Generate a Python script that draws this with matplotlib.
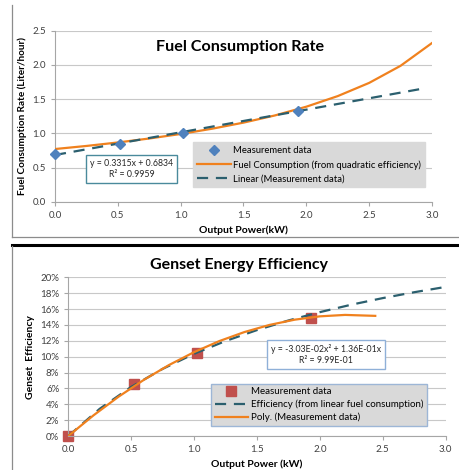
import matplotlib
matplotlib.use('Agg')
import matplotlib.pyplot as plt
from matplotlib.ticker import PercentFormatter, MultipleLocator
from matplotlib.lines import Line2D

plt.rcParams['font.family'] = ['Lato', 'DejaVu Sans']

# --- fuel consumption panel ---
meas_p = [0.0, 0.52, 1.02, 1.93]
meas_fuel = [0.70, 0.84, 1.01, 1.33]

lin_p = [0.0, 2.95]
lin_fuel = [0.683, 1.661]

quad_p = [0.0, 0.25, 0.5, 0.75, 1.0, 1.25, 1.5, 1.75, 2.0, 2.25, 2.5, 2.75, 3.0]
quad_fuel = [0.77, 0.815, 0.866, 0.924, 0.990, 1.067, 1.156, 1.261, 1.389, 1.544, 1.737, 1.987, 2.32]

# --- efficiency panel ---
meas_eff = [0.0, 0.065, 0.105, 0.149]

lineff_p = [0.0, 0.25, 0.5, 0.75, 1.0, 1.25, 1.5, 1.75, 2.0, 2.25, 2.5, 2.75, 3.0]
lineff = [0.0, 0.0343, 0.0619, 0.0846, 0.1036, 0.1197, 0.1335, 0.1456, 0.1561, 0.1655, 0.1738, 0.1812, 0.1879]

poly_p = [0.0, 0.2, 0.4, 0.6, 0.8, 1.0, 1.2, 1.4, 1.6, 1.8, 2.0, 2.2, 2.44]
poly_eff = [0.0, 0.0260, 0.0496, 0.0707, 0.0894, 0.1057, 0.1196, 0.1310, 0.1400, 0.1466, 0.1508, 0.1526, 0.1514]

BLUE = '#4f81bd'
ORANGE = '#f0811e'
TEAL = '#2b5f6e'
RED = '#c0504d'
GRID = '#c8c8c8'
TXT = '#404040'


def style_axes(ax):
    for s in ['top', 'right']:
        ax.spines[s].set_visible(False)
    for s in ['left', 'bottom']:
        ax.spines[s].set_color('#a6a6a6')
        ax.spines[s].set_linewidth(0.8)
    ax.grid(axis='y', color=GRID, linewidth=0.8)
    ax.set_axisbelow(True)
    ax.tick_params(colors='#a6a6a6', labelcolor=TXT, labelsize=7, length=3, width=0.8)
    ax.set_xlim(0, 3.0)
    ax.xaxis.set_major_locator(MultipleLocator(0.5))
    ax.xaxis.set_major_formatter(plt.FormatStrFormatter('%.1f'))


def style_legend(leg, edge):
    fr = leg.get_frame()
    fr.set_facecolor('#d9d9d9')
    fr.set_edgecolor(edge)
    fr.set_alpha(1)


fig = plt.figure(figsize=(4.6, 4.7), dpi=100)

# frame lines
fig.add_artist(Line2D([12.5 / 460, 12.5 / 460], [1 - 5 / 470, 1 - 236.7 / 470], color='#8c8c8c', lw=0.9))
fig.add_artist(Line2D([12.5 / 460, 1.0], [1 - 236.7 / 470, 1 - 236.7 / 470], color='#8c8c8c', lw=0.9))
fig.add_artist(Line2D([12 / 460, 1.0], [1 - 245 / 470, 1 - 245 / 470], color='black', lw=2.2))
fig.add_artist(Line2D([12.5 / 460, 12.5 / 460], [1 - 246 / 470, 0.0], color='#8c8c8c', lw=0.9))

# top chart
ax1 = fig.add_axes([55 / 460, 1 - 201.7 / 470, (432 - 55) / 460, (201.7 - 30.7) / 470])
style_axes(ax1)
ax1.set_ylim(0, 2.5)
ax1.yaxis.set_major_locator(MultipleLocator(0.5))
ax1.yaxis.set_major_formatter(plt.FormatStrFormatter('%.1f'))
ax1.plot(meas_p, meas_fuel, linestyle='none', marker='D', markersize=5.5, color=BLUE,
         label='Measurement data', clip_on=False, zorder=4)
ax1.plot(quad_p, quad_fuel, color=ORANGE, lw=1.6, label='Fuel Consumption (from quadratic efficiency)', zorder=3)
ax1.plot(lin_p, lin_fuel, color=TEAL, lw=1.6, dashes=(5, 3.5), label='Linear (Measurement data)', zorder=3)
ax1.set_xlabel('Output Power(kW)', fontsize=7.5, fontweight='bold', labelpad=4)
ax1.set_ylabel('Fuel Consumption Rate (Liter/hour)', fontsize=7.2, fontweight='bold', labelpad=4)
leg1 = ax1.legend(loc='upper left', bbox_to_anchor=((193 - 55) / 377, (201.7 - 142) / 171),
                  fontsize=6.8, frameon=True, fancybox=False, handlelength=3.6, borderpad=0.45,
                  borderaxespad=0, labelspacing=0.5, handletextpad=0.15)
style_legend(leg1, '#d9d9d9')
ax1.text((132 - 55) / 377, (201.7 - 169) / 171, 'y = 0.3315x + 0.6834\nR² = 0.9959', fontsize=6.3,
         ha='center', va='center', linespacing=1.3, color='#262626', transform=ax1.transAxes,
         bbox=dict(boxstyle='square,pad=0.45', fc='white', ec='#4a8a9c', lw=1.0), zorder=5)
fig.text(240 / 460, 1 - 47 / 470, 'Fuel Consumption Rate', fontsize=11.6, fontweight='bold',
         ha='center', va='center')

# bottom chart
ax2 = fig.add_axes([68.3 / 460, 1 - 436 / 470, (445.7 - 68.3) / 460, (436 - 277.3) / 470])
style_axes(ax2)
ax2.set_ylim(0, 0.20)
ax2.yaxis.set_major_locator(MultipleLocator(0.02))
ax2.yaxis.set_major_formatter(PercentFormatter(1.0, decimals=0))
ax2.plot(meas_p, meas_eff, linestyle='none', marker='s', markersize=6.8, color=RED,
         label='Measurement data', clip_on=False, zorder=2)
ax2.plot(lineff_p, lineff, color=TEAL, lw=1.6, dashes=(5, 3.5),
         label='Efficiency (from linear fuel consumption)', zorder=3)
ax2.plot(poly_p, poly_eff, color=ORANGE, lw=1.6, label='Poly. (Measurement data)', zorder=4)
ax2.set_xlabel('Output Power (kW)', fontsize=7.5, fontweight='bold', labelpad=4)
ax2.set_ylabel('Genset  Efficiency', fontsize=7.5, fontweight='bold', labelpad=4)
leg2 = ax2.legend(loc='upper left', bbox_to_anchor=((211 - 68.3) / 377.4, (436 - 383.5) / 158.7),
                  fontsize=7.0, frameon=True, fancybox=False, handlelength=3.4, borderpad=0.4,
                  borderaxespad=0, labelspacing=0.35, handletextpad=0.3)
style_legend(leg2, '#9db6d6')
ax2.text(((269 + 383) / 2 - 68.3) / 377.4, (436 - 354.5) / 158.7,
         'y = -3.03E-02x² + 1.36E-01x\nR² = 9.99E-01', fontsize=6.3, ha='center', va='center',
         linespacing=1.3, color='#262626', transform=ax2.transAxes,
         bbox=dict(boxstyle='square,pad=0.45', fc='white', ec='#8fb0d8', lw=1.0), zorder=5)
fig.text(239 / 460, 1 - 265 / 470, 'Genset Energy Efficiency', fontsize=11.5, fontweight='bold',
         ha='center', va='center')

fig.savefig('out.png', dpi=100)
